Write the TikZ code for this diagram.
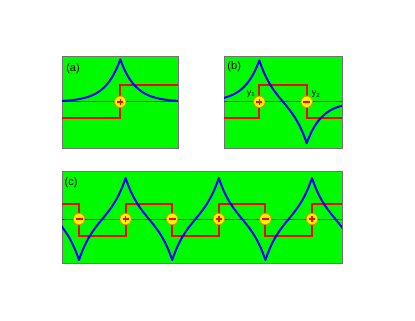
\documentclass[tikz,border=0pt]{standalone}
\usepackage{fontspec}
\setmainfont{Liberation Sans}
\usepackage{tikz}
\usetikzlibrary{positioning}

\definecolor{panelgreen}{RGB}{0,250,0}
\definecolor{axisgreen}{RGB}{0,105,0}
\definecolor{rimorange}{RGB}{230,140,0}

\begin{document}
\begin{tikzpicture}[
    x=1pt,
    y=-1pt,
    every node/.style={font=\fontsize{11}{12}\selectfont},
    panel/.style={draw=black!55, fill=panelgreen, line width=0.9pt},
    midline/.style={draw=axisgreen, line width=0.8pt},
    stepline/.style={draw=red, line width=2pt},
    field/.style={draw=blue, line width=2pt, line cap=round, line join=round},
    charge/.style={circle, draw=rimorange, fill=yellow, line width=0.8pt, minimum size=11.5pt, inner sep=0pt},
    pluscharge/.style={charge, path picture={
        \draw[red, line width=1.5pt]
          ([xshift=-3pt]path picture bounding box.center) -- ([xshift=3pt]path picture bounding box.center)
          ([yshift=-3pt]path picture bounding box.center) -- ([yshift=3pt]path picture bounding box.center);}},
    minuscharge/.style={charge, path picture={
        \draw[red, line width=2pt]
          ([xshift=-3.5pt]path picture bounding box.center) -- ([xshift=3.5pt]path picture bounding box.center);}},
    tag/.style={font=\fontsize{9}{10}\selectfont},
    declare function={
      fa(\t)=101.8-42.5*exp(-abs(\t-120.3)/15);
      fb(\t)=101.8-43.3*(exp(-abs(\t-259.3)/15)-exp(-abs(\t-306.7)/15));
    }
  ]
    \useasboundingbox (0,0) rectangle (415,321);

    % (a)
    \draw[panel] (62,56) rectangle (178,148);
    \draw[midline] (62,101.8) -- (178,101.8);
    \draw[stepline] (62,118.3) -| (120.3,85) -- (178,85);
    \begin{scope}
      \clip (62,56) rectangle (178,148);
      \draw[field] plot[domain=62:120.3, samples=50] (\x, {fa(\x)})
        -- plot[domain=120.3:178, samples=50] (\x, {fa(\x)});
    \end{scope}
    \node[pluscharge] (qa) at (120.3,101.8) {};
    \node (labela) at (73,68.3) {(a)};

    % (b)
    \draw[panel] (224,56) rectangle (342,148);
    \draw[midline] (224,101.8) -- (342,101.8);
    \draw[stepline] (224,118.3) -| (259.3,85) -| (306.7,118.3) -- (342,118.3);
    \begin{scope}
      \clip (224,56) rectangle (342,148);
      \draw[field] plot[domain=224:259.3, samples=40] (\x, {fb(\x)})
        -- plot[domain=259.3:306.7, samples=50] (\x, {fb(\x)})
        -- plot[domain=306.7:342, samples=40] (\x, {fb(\x)});
    \end{scope}
    \node[pluscharge] (qb1) at (259.3,101.8) {};
    \node[minuscharge] (qb2) at (306.7,101.8) {};
    \node[tag] (y1) at (251,94.5) {y\textsubscript{1}};
    \node[tag] (y2) at (316,94.5) {y\textsubscript{2}};
    \node (labelb) at (234.2,67) {(b)};

    % (c)
    \draw[panel] (62,171) rectangle (342,263.5);
    \draw[midline] (62,219) -- (342,219);
    \draw[stepline] (62,204.3) -| (79,236.3) -| (125.6,204.3) -| (172.2,236.3)
      -| (218.8,204.3) -| (265.4,236.3) -| (312,204.3) -- (342,204.3);
    \begin{scope}
      \clip (62,171) rectangle (342,263.5);
      \foreach \p/\s [evaluate=\p as \q using \p+46.6] in
          {32.4/1, 79/-1, 125.6/1, 172.2/-1, 218.8/1, 265.4/-1, 312/1}
        \draw[field] plot[domain=\p:\q, samples=40]
          (\x, {219-\s*41*sinh((23.3-\x+\p)/15)/sinh(23.3/15)});
    \end{scope}
    \foreach \p [count=\i] in {79, 172.2, 265.4}
      \node[minuscharge] (qm\i) at (\p,219) {};
    \foreach \p [count=\i] in {125.6, 218.8, 312}
      \node[pluscharge] (qp\i) at (\p,219) {};
    \node (labelc) at (71,182.7) {(c)};
\end{tikzpicture}
\end{document}
